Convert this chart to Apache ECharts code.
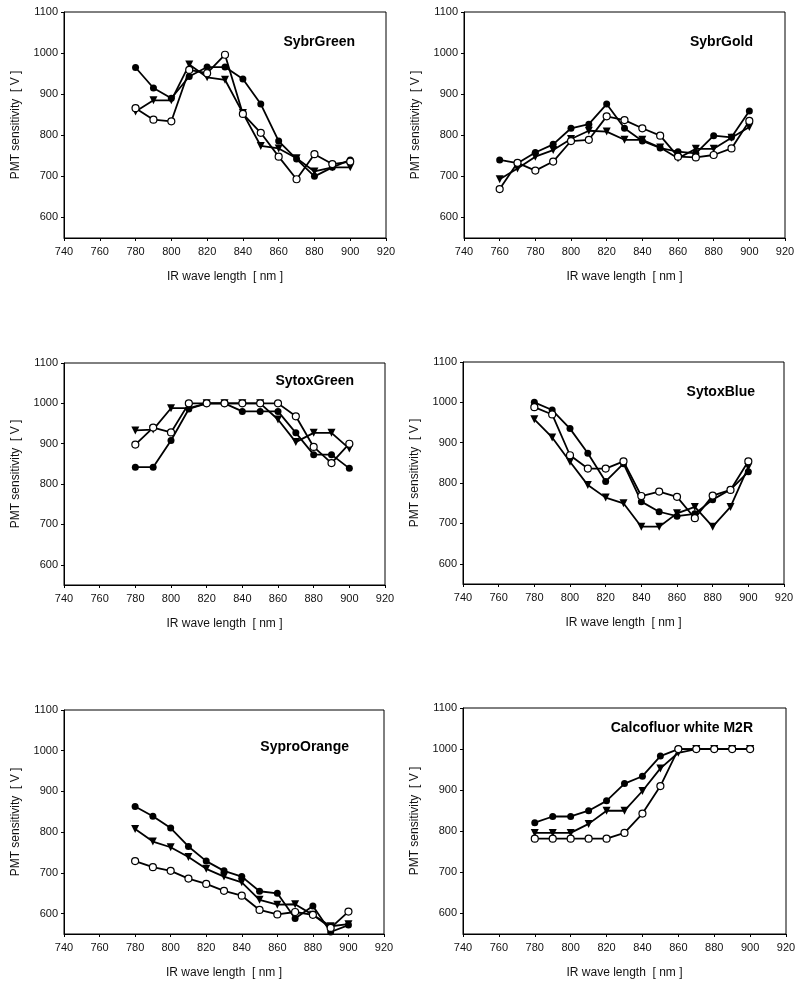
<!DOCTYPE html>
<html>
<head>
<meta charset="utf-8">
<title>PMT sensitivity vs IR wave length</title>
<script src="https://cdn.jsdelivr.net/npm/echarts@6/dist/echarts.min.js"></script>
<style>
  html, body { margin: 0; padding: 0; background: #fff; }
  #chart { width: 800px; height: 989px; }
</style>
</head>
<body>
<div id="chart"></div>
<script>
// wave lengths (nm)
const wl780 = [780, 790, 800, 810, 820, 830, 840, 850, 860, 870, 880, 890, 900]
const wl760 = [760, 770, 780, 790, 800, 810, 820, 830, 840, 850, 860, 870, 880, 890, 900]

const xTicks = [740, 760, 780, 800, 820, 840, 860, 880, 900, 920]
const yTicks = [600, 700, 800, 900, 1000, 1100]

// SybrGreen
const sybrGreenFilled = [965, 915, 890, 943, 966, 966, 937, 876, 786, 742, 700, 722, 740]
const sybrGreenOpen = [866, 838, 834, 959, 951, 996, 852, 806, 748, 693, 754, 730, 736]
const sybrGreenTri = [858, 885, 885, 972, 941, 935, 854, 774, 768, 744, 712, 722, 722]

// SybrGold (760 - 900)
const sybrGoldFilled = [740, 732, 758, 778, 817, 827, 876, 817, 786, 769, 760, 756, 799, 795, 859]
const sybrGoldOpen = [669, 733, 714, 736, 786, 789, 846, 837, 817, 799, 748, 746, 752, 768, 835]
const sybrGoldTri = [693, 719, 748, 764, 791, 811, 809, 789, 789, 770, 744, 767, 767, 794, 820]

// SytoxGreen
const sytoxGreenFilled = [842, 842, 908, 986, 1000, 1000, 980, 980, 980, 927, 873, 873, 839]
const sytoxGreenOpen = [898, 940, 928, 1000, 1000, 1000, 1000, 1000, 1000, 968, 892, 852, 900]
const sytoxGreenTri = [933, 935, 988, 988, 1000, 1000, 1000, 1000, 960, 904, 927, 927, 888]

// SytoxBlue
const sytoxBlueFilled = [1000, 981, 935, 874, 804, 848, 754, 729, 718, 724, 759, 784, 828]
const sytoxBlueOpen = [988, 970, 869, 836, 836, 854, 768, 779, 766, 713, 769, 783, 854]
const sytoxBlueTri = [958, 913, 853, 795, 764, 750, 692, 692, 725, 741, 692, 741, 840]

// SyproOrange
const syproOrangeFilled = [863, 839, 810, 765, 729, 705, 691, 655, 650, 588, 619, 555, 572]
const syproOrangeOpen = [729, 714, 705, 686, 673, 656, 644, 609, 598, 604, 597, 565, 605]
const syproOrangeTri = [808, 777, 763, 739, 710, 691, 677, 634, 622, 623, 597, 569, 574]

// Calcofluor white M2R
const calcoFilled = [821, 836, 836, 850, 874, 916, 934, 983, 1000, 1000, 1000, 1000, 1000]
const calcoOpen = [782, 782, 782, 782, 782, 796, 843, 910, 1000, 1000, 1000, 1000, 1000]
const calcoTri = [796, 796, 796, 818, 850, 850, 898, 953, 991, 1000, 1000, 1000, 1000]

const panels = [
  { title: 'SybrGreen', x: wl780, filled: sybrGreenFilled, open: sybrGreenOpen, tri: sybrGreenTri,
    grid: { left: 64, top: 12, width: 322, height: 226 }, titlePos: { right: 445, top: 35 } },
  { title: 'SybrGold', x: wl760, filled: sybrGoldFilled, open: sybrGoldOpen, tri: sybrGoldTri,
    grid: { left: 464, top: 12, width: 321, height: 226 }, titlePos: { right: 47, top: 35 } },
  { title: 'SytoxGreen', x: wl780, filled: sytoxGreenFilled, open: sytoxGreenOpen, tri: sytoxGreenTri,
    grid: { left: 64, top: 363, width: 321, height: 222 }, titlePos: { right: 446, top: 374 } },
  { title: 'SytoxBlue', x: wl780, filled: sytoxBlueFilled, open: sytoxBlueOpen, tri: sytoxBlueTri,
    grid: { left: 463, top: 362, width: 321, height: 222 }, titlePos: { right: 45, top: 385 } },
  { title: 'SyproOrange', x: wl780, filled: syproOrangeFilled, open: syproOrangeOpen, tri: syproOrangeTri,
    grid: { left: 64, top: 710, width: 320, height: 224 }, titlePos: { right: 451, top: 740 } },
  { title: 'Calcofluor white M2R', x: wl780, filled: calcoFilled, open: calcoOpen, tri: calcoTri,
    grid: { left: 463, top: 708, width: 323, height: 226 }, titlePos: { right: 47, top: 721 } }
]

const font = 'Liberation Sans, Arial, sans-serif'

const pairs = (xs, ys) => xs.map((x, i) => [x, ys[i]])

const grids = []
const xAxes = []
const yAxes = []
const titles = []
const series = []

panels.forEach((p, i) => {
  grids.push(Object.assign({ show: true, borderColor: '#000', borderWidth: 1, backgroundColor: '#fff' }, p.grid))

  xAxes.push({
    gridIndex: i,
    type: 'value',
    min: 740,
    max: 920,
    interval: 20,
    name: 'IR wave length  [ nm ]',
    nameLocation: 'middle',
    nameGap: 33,
    nameTextStyle: { fontFamily: font, fontSize: 12, color: '#111' },
    axisLine: { show: true, onZero: false, lineStyle: { color: '#000', width: 1 } },
    axisTick: { show: true, length: 3, lineStyle: { color: '#000' }, customValues: xTicks },
    axisLabel: { fontFamily: font, fontSize: 11, color: '#111', margin: 8, customValues: xTicks,
      formatter: v => String(v) },
    splitLine: { show: false }
  })

  yAxes.push({
    gridIndex: i,
    type: 'value',
    min: 550,
    max: 1100,
    name: 'PMT sensitivity  [ V ]',
    nameLocation: 'middle',
    nameGap: 42,
    nameTextStyle: { fontFamily: font, fontSize: 12, color: '#111' },
    axisLine: { show: true, lineStyle: { color: '#000', width: 1 } },
    axisTick: { show: true, length: 3, lineStyle: { color: '#000' }, customValues: yTicks },
    axisLabel: { fontFamily: font, fontSize: 11, color: '#111', margin: 6, customValues: yTicks,
      formatter: v => String(v) },
    splitLine: { show: false }
  })

  titles.push({
    text: p.title,
    right: p.titlePos.right,
    top: p.titlePos.top,
    padding: 0,
    textStyle: { fontFamily: font, fontSize: 14, fontWeight: 'bold', color: '#000' }
  })

  const base = {
    type: 'line',
    xAxisIndex: i,
    yAxisIndex: i,
    symbolSize: 7,
    lineStyle: { color: '#000', width: 1.8 },
    animation: false,
    z: 3
  }

  series.push(Object.assign({}, base, {
    name: p.title + ' tri',
    data: pairs(p.x, p.tri),
    symbol: 'triangle',
    symbolRotate: 180,
    symbolSize: 8,
    itemStyle: { color: '#000', borderColor: '#000', borderWidth: 0 }
  }))
  series.push(Object.assign({}, base, {
    name: p.title + ' filled',
    data: pairs(p.x, p.filled),
    symbol: 'circle',
    itemStyle: { color: '#000', borderColor: '#000', borderWidth: 0 }
  }))
  series.push(Object.assign({}, base, {
    name: p.title + ' open',
    data: pairs(p.x, p.open),
    symbol: 'circle',
    showAllSymbol: true,
    itemStyle: { color: '#fff', borderColor: '#000', borderWidth: 1.2 }
  }))
})

const chart = echarts.init(document.getElementById('chart'), null, { renderer: 'canvas' })
chart.setOption({
  animation: false,
  backgroundColor: '#fff',
  title: titles,
  grid: grids,
  xAxis: xAxes,
  yAxis: yAxes,
  series: series
})
</script>
</body>
</html>
